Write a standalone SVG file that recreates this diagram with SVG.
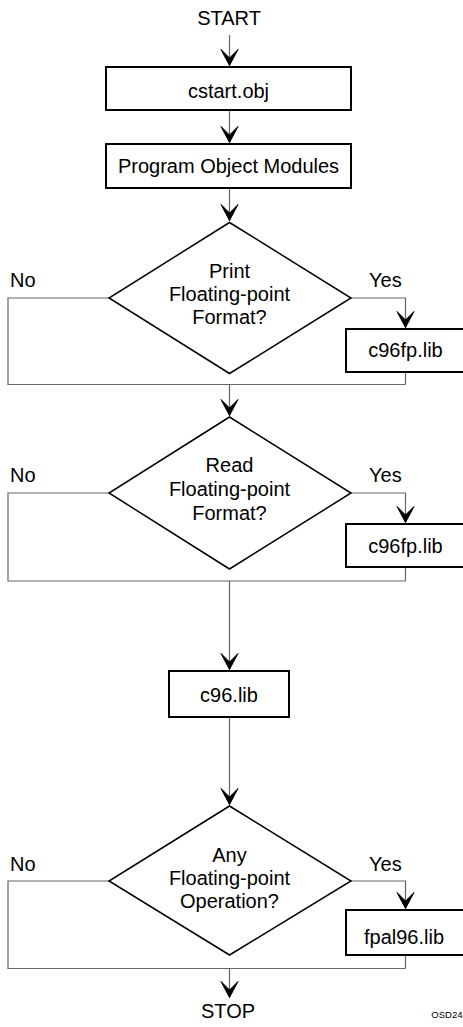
<svg xmlns="http://www.w3.org/2000/svg" width="463" height="1027" viewBox="0 0 463 1027">
  <style>
    .lbl { font-family: "Liberation Sans", Arial, sans-serif; font-size: 20px; fill: #000; }
    .mid { text-anchor: middle; }
    .box { fill: #fff; stroke: #000; stroke-width: 2; }
    .dia { fill: #fff; stroke: #000; stroke-width: 1.5; stroke-linejoin: miter; }
    .wire { fill: none; stroke: #666; stroke-width: 1.2; }
    .tag { font-family: "Liberation Sans", Arial, sans-serif; font-size: 9.5px; fill: #000; text-anchor: end; }
  </style>
  <defs>
    <marker id="arrow" markerUnits="userSpaceOnUse" viewBox="-19 -10 20 20" refX="0" refY="0" markerWidth="20" markerHeight="20" orient="auto" overflow="visible">
      <path d="M-0.5,0 L-16.5,-8.5 L-8,0 L-16.5,8.5 Z" fill="#000" stroke="#000" stroke-width="1" stroke-linejoin="round"/>
    </marker>
  </defs>
  <rect width="463" height="1027" fill="#fff"/>

  <!-- connectors -->
  <g id="connectors">
    <path class="wire" d="M229.5,35 V66" marker-end="url(#arrow)"/>
    <path class="wire" d="M229.5,110 V143" marker-end="url(#arrow)"/>
    <path class="wire" d="M229.5,188 V221" marker-end="url(#arrow)"/>
    <!-- decision 1 -->
    <path class="wire" d="M351,298 H405.5 V328" marker-end="url(#arrow)"/>
    <path class="wire" d="M405.5,372 V384.5"/>
    <path class="wire" d="M109,298 H8 V384.5 H405.5"/>
    <path class="wire" d="M229.5,384.5 V416" marker-end="url(#arrow)"/>
    <!-- decision 2 -->
    <path class="wire" d="M351,493 H405.5 V523" marker-end="url(#arrow)"/>
    <path class="wire" d="M405.5,567 V581"/>
    <path class="wire" d="M109,493 H8 V581 H405.5"/>
    <path class="wire" d="M229.5,581 V670" marker-end="url(#arrow)"/>
    <path class="wire" d="M229.5,717 V805" marker-end="url(#arrow)"/>
    <!-- decision 3 -->
    <path class="wire" d="M351,881 H405.5 V909" marker-end="url(#arrow)"/>
    <path class="wire" d="M405.5,955 V968.5"/>
    <path class="wire" d="M109,881 H8 V968.5 H405.5"/>
    <path class="wire" d="M229.5,968.5 V998" marker-end="url(#arrow)"/>
  </g>

  <g id="start">
    <text class="lbl mid" x="229" y="25">START</text>
  </g>

  <g id="cstart">
    <rect class="box" x="106" y="67" width="245" height="43"/>
    <text class="lbl mid" x="228.5" y="98">cstart.obj</text>
  </g>

  <g id="modules">
    <rect class="box" x="106" y="144" width="245" height="44"/>
    <text class="lbl mid" x="228.5" y="173">Program Object Modules</text>
  </g>

  <g id="print-fp">
    <polygon class="dia" points="229.5,222.5 351,298 229.5,373.5 109,298"/>
    <text class="lbl mid" x="229.5" y="278">Print</text>
    <text class="lbl mid" x="229.5" y="301">Floating-point</text>
    <text class="lbl mid" x="229.5" y="324">Format?</text>
    <text class="lbl" x="10" y="287">No</text>
    <text class="lbl" x="369" y="287">Yes</text>
  </g>

  <g id="c96fp-print">
    <rect class="box" x="346" y="329" width="130" height="43"/>
    <text class="lbl mid" x="405.5" y="357">c96fp.lib</text>
  </g>

  <g id="read-fp">
    <polygon class="dia" points="229.5,417 351,493 229.5,569 109,493"/>
    <text class="lbl mid" x="229.5" y="472">Read</text>
    <text class="lbl mid" x="229.5" y="496">Floating-point</text>
    <text class="lbl mid" x="229.5" y="520">Format?</text>
    <text class="lbl" x="10" y="482">No</text>
    <text class="lbl" x="369" y="482">Yes</text>
  </g>

  <g id="c96fp-read">
    <rect class="box" x="346" y="524" width="130" height="43"/>
    <text class="lbl mid" x="405.5" y="553">c96fp.lib</text>
  </g>

  <g id="c96">
    <rect class="box" x="169" y="671" width="120" height="46"/>
    <text class="lbl mid" x="229" y="702">c96.lib</text>
  </g>

  <g id="any-fp">
    <polygon class="dia" points="229.5,806 351,881 229.5,955 109,881"/>
    <text class="lbl mid" x="229.5" y="862">Any</text>
    <text class="lbl mid" x="229.5" y="885">Floating-point</text>
    <text class="lbl mid" x="229.5" y="908">Operation?</text>
    <text class="lbl" x="10" y="871">No</text>
    <text class="lbl" x="369" y="871">Yes</text>
  </g>

  <g id="fpal96">
    <rect class="box" x="346" y="910" width="130" height="45"/>
    <text class="lbl mid" x="404" y="944">fpal96.lib</text>
  </g>

  <g id="stop">
    <text class="lbl mid" x="228" y="1018">STOP</text>
  </g>

  <text class="tag" x="462.5" y="1018">OSD24</text>
</svg>
